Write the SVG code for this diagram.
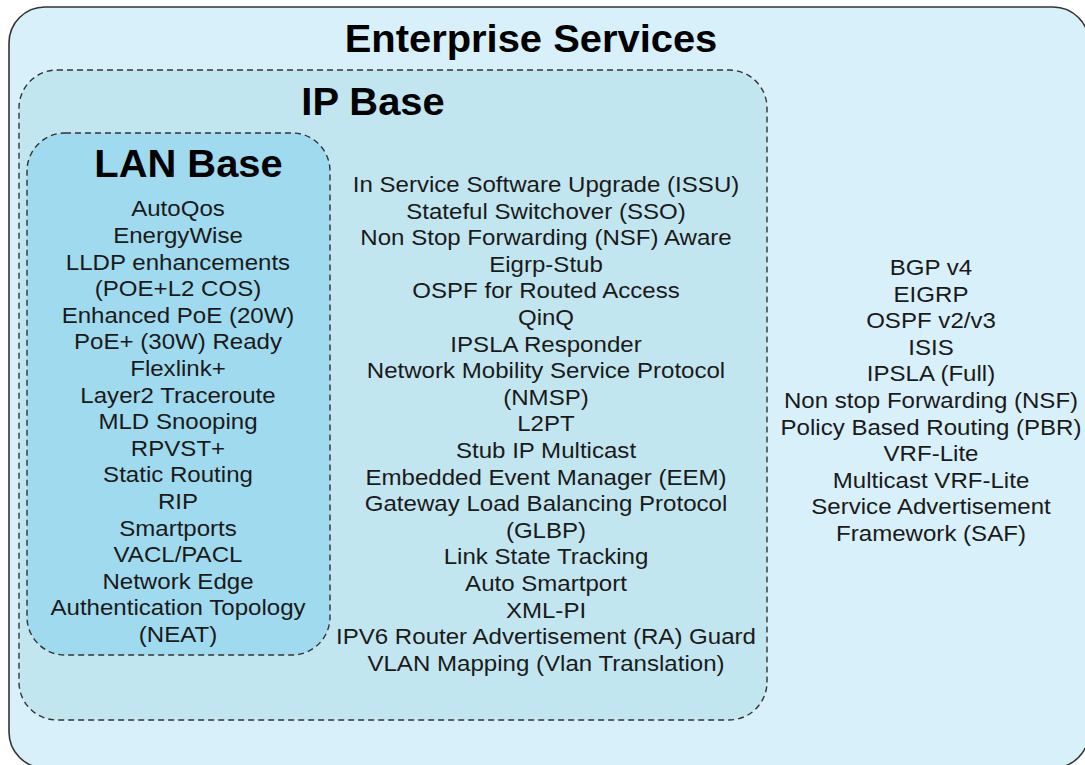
<svg xmlns="http://www.w3.org/2000/svg" width="1085" height="765" viewBox="0 0 1085 765">
<style>
.t{font-family:"Liberation Sans",Arial,sans-serif;font-size:21.5px;fill:#1a1a1a;text-anchor:middle}
.h{font-family:"Liberation Sans",Arial,sans-serif;font-weight:bold;font-size:38px;fill:#000;text-anchor:middle}
.dash{stroke:#333;stroke-width:1.4;stroke-dasharray:6,4}
</style>
<rect width="1085" height="765" fill="#fff"/>
<g id="enterprise-services">
<rect x="9" y="7" width="1080" height="761" rx="36" fill="#d8f0fa" stroke="#333" stroke-width="1.6"/>
<text class="h" transform="translate(531,52) scale(1.05,1)" x="0" y="0">Enterprise Services</text>
<g transform="translate(931,0) scale(1.12,1)">
<text class="t" x="0" y="275"><tspan x="0" dy="0">BGP v4</tspan><tspan x="0" dy="26.6">EIGRP</tspan><tspan x="0" dy="26.6">OSPF v2/v3</tspan><tspan x="0" dy="26.6">ISIS</tspan><tspan x="0" dy="26.6">IPSLA (Full)</tspan><tspan x="0" dy="26.6">Non stop Forwarding (NSF)</tspan><tspan x="0" dy="26.6">Policy Based Routing (PBR)</tspan><tspan x="0" dy="26.6">VRF-Lite</tspan><tspan x="0" dy="26.6">Multicast VRF-Lite</tspan><tspan x="0" dy="26.6">Service Advertisement</tspan><tspan x="0" dy="26.6">Framework (SAF)</tspan></text>
</g>
</g>
<g id="ip-base">
<rect x="19" y="70" width="748" height="650" rx="38" fill="#c2e6f0" class="dash"/>
<text class="h" transform="translate(373,115) scale(1.05,1)" x="0" y="0">IP Base</text>
<g transform="translate(546,0) scale(1.12,1)">
<text class="t" x="0" y="192"><tspan x="0" dy="0">In Service Software Upgrade (ISSU)</tspan><tspan x="0" dy="26.6">Stateful Switchover (SSO)</tspan><tspan x="0" dy="26.6">Non Stop Forwarding (NSF) Aware</tspan><tspan x="0" dy="26.6">Eigrp-Stub</tspan><tspan x="0" dy="26.6">OSPF for Routed Access</tspan><tspan x="0" dy="26.6">QinQ</tspan><tspan x="0" dy="26.6">IPSLA Responder</tspan><tspan x="0" dy="26.6">Network Mobility Service Protocol</tspan><tspan x="0" dy="26.6">(NMSP)</tspan><tspan x="0" dy="26.6">L2PT</tspan><tspan x="0" dy="26.6">Stub IP Multicast</tspan><tspan x="0" dy="26.6">Embedded Event Manager (EEM)</tspan><tspan x="0" dy="26.6">Gateway Load Balancing Protocol</tspan><tspan x="0" dy="26.6">(GLBP)</tspan><tspan x="0" dy="26.6">Link State Tracking</tspan><tspan x="0" dy="26.6">Auto Smartport</tspan><tspan x="0" dy="26.6">XML-PI</tspan><tspan x="0" dy="26.6">IPV6 Router Advertisement (RA) Guard</tspan><tspan x="0" dy="26.6">VLAN Mapping (Vlan Translation)</tspan></text>
</g>
</g>
<g id="lan-base">
<rect x="27" y="133" width="303" height="522" rx="38" fill="#a0daee" class="dash"/>
<text class="h" transform="translate(188.5,177) scale(1.05,1)" x="0" y="0">LAN Base</text>
<g transform="translate(178,0) scale(1.12,1)">
<text class="t" x="0" y="216.5"><tspan x="0" dy="0">AutoQos</tspan><tspan x="0" dy="26.6">EnergyWise</tspan><tspan x="0" dy="26.6">LLDP enhancements</tspan><tspan x="0" dy="26.6">(POE+L2 COS)</tspan><tspan x="0" dy="26.6">Enhanced PoE (20W)</tspan><tspan x="0" dy="26.6">PoE+ (30W) Ready</tspan><tspan x="0" dy="26.6">Flexlink+</tspan><tspan x="0" dy="26.6">Layer2 Traceroute</tspan><tspan x="0" dy="26.6">MLD Snooping</tspan><tspan x="0" dy="26.6">RPVST+</tspan><tspan x="0" dy="26.6">Static Routing</tspan><tspan x="0" dy="26.6">RIP</tspan><tspan x="0" dy="26.6">Smartports</tspan><tspan x="0" dy="26.6">VACL/PACL</tspan><tspan x="0" dy="26.6">Network Edge</tspan><tspan x="0" dy="26.6">Authentication Topology</tspan><tspan x="0" dy="26.6">(NEAT)</tspan></text>
</g>
</g>
<g id="connectors"></g>
</svg>
